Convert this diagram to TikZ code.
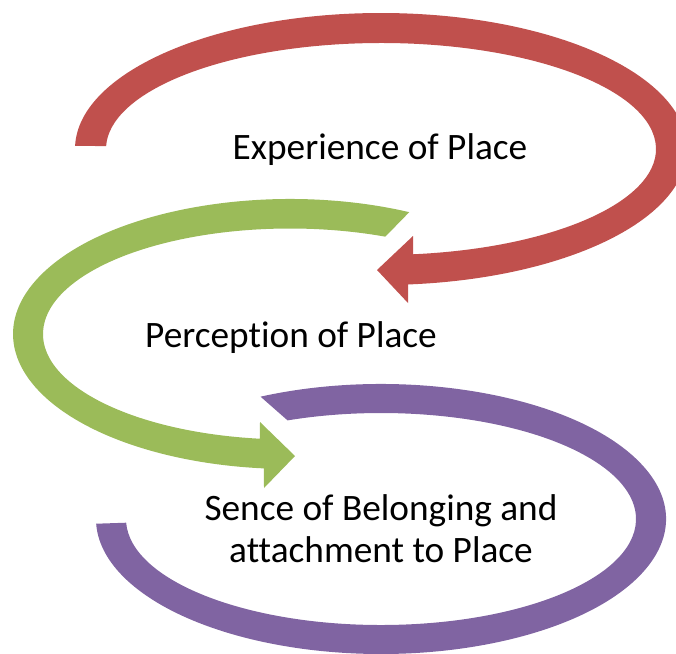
\documentclass[tikz,border=0pt]{standalone}
\usepackage{fontspec}
\setmainfont[Ligatures=NoCommon]{Carlito}
\usetikzlibrary{positioning}
\definecolor{arcred}{HTML}{C0504D}
\definecolor{arcgreen}{HTML}{9BBB59}
\definecolor{arcpurple}{HTML}{8064A2}
\tikzset{stage/.style={font=\fontsize{37.3}{42}\selectfont, align=center, inner sep=0pt}}

\begin{document}
\begin{tikzpicture}[x=1pt,y=-1pt]
  \useasboundingbox (0,0) rectangle (676,653);
  \clip (0,0) rectangle (676,653);
  % centres of the three loops
  \coordinate (cr) at (381,149);
  \coordinate (cg) at (290,334);
  \coordinate (cp) at (381,519);
  % red loop
  \fill[arcred] ([shift={(181.3:306 and 136)}]cr)
    arc[start angle=181.3, end angle=444.9, x radius=306, y radius=136]
    -- (408,303) -- (377,270) -- (413,236)
    -- ([shift={(443.3:275 and 106)}]cr)
    arc[start angle=443.3, end angle=181.6, x radius=275, y radius=106] -- cycle;
  % green loop
  \fill[arcgreen] ([shift={(-64.5:277 and 135)}]cg)
    arc[start angle=-64.5, end angle=-264.6, x radius=277, y radius=135]
    -- (264,488) -- (295,456) -- (260,422)
    -- ([shift={(-263:247 and 105.5)}]cg)
    arc[start angle=-263, end angle=-67.3, x radius=247, y radius=105.5] -- cycle;
  % purple loop
  \fill[arcpurple] ([shift={(245:285 and 135)}]cp)
    arc[start angle=245, end angle=538, x radius=285, y radius=135]
    -- ([shift={(538:255 and 106)}]cp)
    arc[start angle=538, end angle=248.5, x radius=255, y radius=106] -- cycle;
  % labels
  \node[stage, anchor=base] (exp) at (380,159) {Experience of Place};
  \node[stage, anchor=base] (per) at (291,347) {Perception of Place};
  \node[stage, anchor=base] (bel) at (381,562) {Sence of Belonging and\\attachment to Place};
\end{tikzpicture}
\end{document}
